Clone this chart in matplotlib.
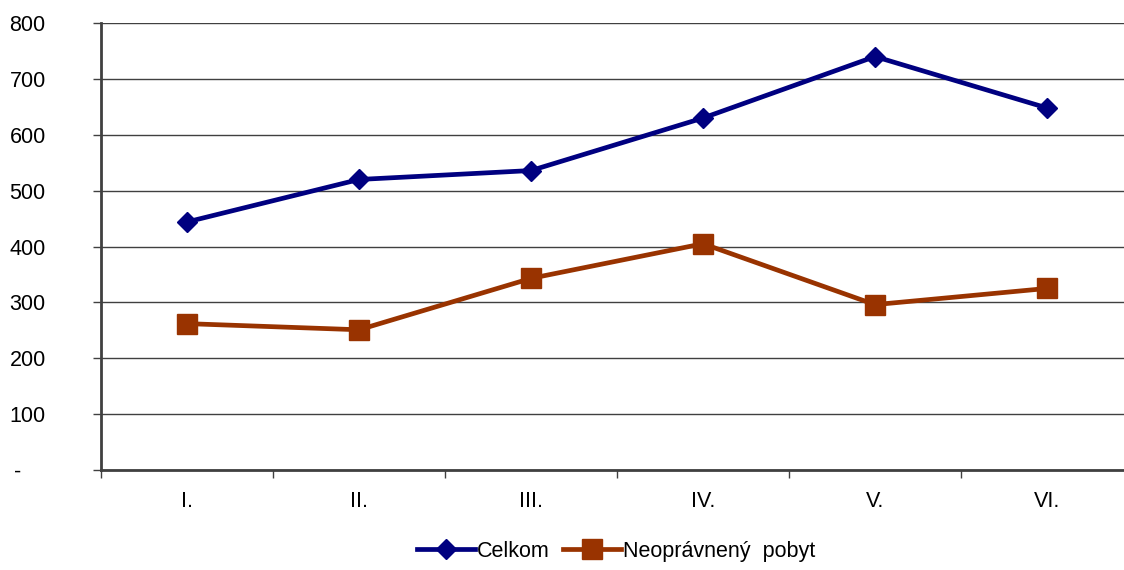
import matplotlib.pyplot as plt
import matplotlib.transforms as mtransforms
import numpy as np

months = ["I.", "II.", "III.", "IV.", "V.", "VI."]
celkom = [444, 520, 536, 630, 740, 648]
neopravneny = [262, 251, 343, 405, 296, 325]

plt.rcParams["font.family"] = ["Liberation Sans", "DejaVu Sans"]

fig = plt.figure(figsize=(11.24, 5.70), dpi=100)
ax = fig.add_axes([0.0899, 0.1754, 0.9181, 0.7842])

x = np.arange(len(months))
ax.plot(x, celkom, color="#000080", lw=3.4, marker="D", ms=10.5, label="Celkom", zorder=3)
ax.plot(x, neopravneny, color="#993300", lw=3.4, marker="s", ms=14, label="Neoprávnený  pobyt", zorder=3)

ax.set_ylim(0, 800)
ax.set_xlim(-0.5, 5.5)
ax.set_yticks(range(0, 801, 100))
ax.set_yticklabels(["-"] + [str(v) for v in range(100, 801, 100)])
ax.yaxis.grid(True, color="#404040", lw=1)
ax.set_axisbelow(True)

ax.set_xticks(x)
ax.set_xticklabels(months)
ax.set_xticks(np.arange(-0.5, 5.6, 1), minor=True)
ax.tick_params(axis="x", which="major", length=0, pad=15, labelsize=15.5)
ax.tick_params(axis="x", which="minor", length=6, width=1, color="#404040", direction="out")
ax.tick_params(axis="y", length=6, width=1, color="#404040", pad=60, labelsize=15.5)
for lbl in ax.get_yticklabels():
    lbl.set_horizontalalignment("left")
# the dash for zero sits a bit to the right
zero_lbl = ax.get_yticklabels()[0]
zero_lbl.set_transform(zero_lbl.get_transform() +
                       mtransforms.ScaledTranslation(5 / 100, 0, fig.dpi_scale_trans))

for s in ["top", "right"]:
    ax.spines[s].set_visible(False)
for s in ["left", "bottom"]:
    ax.spines[s].set_color("#404040")
    ax.spines[s].set_linewidth(2)

fig.legend(loc="lower center", bbox_to_anchor=(0.548, -0.02), ncol=2, frameon=False,
           fontsize=15.5, handlelength=2.7, handletextpad=0.1, columnspacing=0.6)

fig.savefig("out.png", dpi=100)
